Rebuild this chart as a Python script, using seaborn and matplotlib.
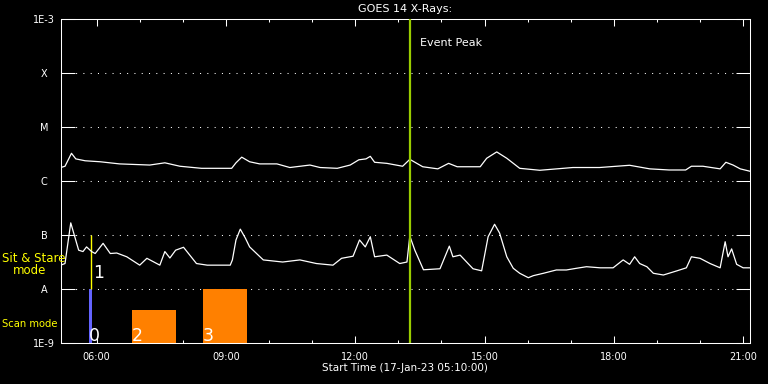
import matplotlib
matplotlib.use('Agg')
import matplotlib.pyplot as plt
import matplotlib.dates as mdates
from matplotlib.ticker import FixedLocator, NullLocator
import pandas as pd
import seaborn as sns

day = '2023-01-17 '

# GOES long channel (1-8 A)
long_times = ['05:10', '05:16', '05:25', '05:31', '05:44', '06:05', '06:32', '07:14', '07:35', '07:56',
              '08:26', '09:08', '09:14', '09:22', '09:33', '09:47', '10:11', '10:29', '10:57', '11:11',
              '11:35', '11:53', '12:05', '12:15', '12:21', '12:27', '12:44', '13:06', '13:16', '13:34',
              '13:55', '14:10', '14:22', '14:54', '15:03', '15:17', '15:31', '15:49', '16:17', '17:03',
              '17:40', '18:22', '18:50', '19:17', '19:40', '19:48', '20:04', '20:28', '20:36', '20:46',
              '20:56', '21:10']
long_flux = [1.8e-6, 1.9e-6, 3.3e-6, 2.6e-6, 2.4e-6, 2.3e-6, 2.1e-6, 2.0e-6, 2.2e-6, 1.9e-6,
             1.74e-6, 1.74e-6, 2.2e-6, 2.8e-6, 2.3e-6, 2.1e-6, 2.1e-6, 1.8e-6, 2.0e-6, 1.8e-6,
             1.74e-6, 2.0e-6, 2.5e-6, 2.6e-6, 2.9e-6, 2.25e-6, 2.15e-6, 1.9e-6, 2.55e-6, 1.86e-6,
             1.7e-6, 2.15e-6, 1.86e-6, 1.86e-6, 2.67e-6, 3.5e-6, 2.67e-6, 1.74e-6, 1.6e-6, 1.8e-6,
             1.8e-6, 1.98e-6, 1.7e-6, 1.62e-6, 1.62e-6, 1.9e-6, 1.9e-6, 1.7e-6, 2.25e-6, 2.0e-6,
             1.7e-6, 1.53e-6]

# GOES short channel (0.5-4 A)
short_times = ['05:10', '05:16', '05:24', '05:29', '05:35', '05:41', '05:46', '05:53', '05:58', '06:09',
               '06:19', '06:28', '06:42', '07:00', '07:10', '07:28', '07:35', '07:42', '07:50', '08:01',
               '08:19', '08:34', '09:06', '09:09', '09:14', '09:20', '09:27', '09:33', '09:52', '10:19',
               '10:43', '11:06', '11:29', '11:41', '11:57', '12:06', '12:14', '12:21', '12:27', '12:44',
               '13:02', '13:12', '13:16', '13:23', '13:35', '13:58', '14:11', '14:16', '14:26', '14:44',
               '14:56', '15:05', '15:14', '15:21', '15:31', '15:40', '15:49', '16:01', '16:08', '16:22',
               '16:40', '16:54', '17:08', '17:22', '17:41', '17:59', '18:13', '18:22', '18:29', '18:36',
               '18:46', '18:55', '19:09', '19:27', '19:41', '19:48', '20:00', '20:14', '20:28', '20:35',
               '20:39', '20:44', '20:51', '21:00', '21:10']
short_flux = [2.8e-8, 3.0e-8, 1.7e-7, 1.0e-7, 5.3e-8, 5.0e-8, 6.1e-8, 5.0e-8, 4.6e-8, 7.1e-8,
              4.6e-8, 4.7e-8, 4.0e-8, 2.8e-8, 3.75e-8, 2.8e-8, 5.0e-8, 3.8e-8, 5.3e-8, 6.0e-8,
              3.0e-8, 2.8e-8, 2.8e-8, 3.5e-8, 8.2e-8, 1.3e-7, 8.9e-8, 6.1e-8, 3.5e-8, 3.2e-8,
              3.5e-8, 3.0e-8, 2.8e-8, 3.75e-8, 4.1e-8, 8.2e-8, 6.1e-8, 9.4e-8, 4.0e-8, 4.3e-8,
              3.0e-8, 3.2e-8, 9.7e-8, 5.3e-8, 2.3e-8, 2.4e-8, 6.3e-8, 4.0e-8, 4.3e-8, 2.4e-8,
              2.2e-8, 9.4e-8, 1.6e-7, 1.1e-7, 4.0e-8, 2.45e-8, 1.98e-8, 1.64e-8, 1.79e-8, 1.98e-8,
              2.28e-8, 2.28e-8, 2.45e-8, 2.62e-8, 2.5e-8, 2.5e-8, 3.5e-8, 2.9e-8, 4.0e-8, 3.0e-8,
              2.62e-8, 1.98e-8, 1.84e-8, 2.18e-8, 2.5e-8, 4.0e-8, 3.75e-8, 3.0e-8, 2.5e-8, 7.6e-8,
              4.0e-8, 5.6e-8, 2.9e-8, 2.5e-8, 2.5e-8]

# observation blocks: label, start, end, top flux, colour
obs_labels = ['0', '2', '3']
obs_start = ['05:49', '06:49', '08:28']
obs_end = ['05:54', '07:51', '09:30']
obs_top = [1e-8, 4.1e-9, 1e-8]
obs_colors = ['#6464ff', '#ff8000', '#ff8000']

sitstare_time = '05:52'
sitstare_range = [1e-8, 1e-7]
event_peak = '13:16'

class_ticks = [1e-9, 1e-8, 1e-7, 1e-6, 1e-5, 1e-4, 1e-3]
class_labels = ['1E-9', 'A', 'B', 'C', 'M', 'X', '1E-3']
t_start, t_end = '05:10', '21:10'


def ts(hm):
    return pd.Timestamp(day + hm)


df = pd.concat([
    pd.DataFrame({'time': [ts(t) for t in long_times], 'flux': long_flux, 'band': 'long'}),
    pd.DataFrame({'time': [ts(t) for t in short_times], 'flux': short_flux, 'band': 'short'}),
])

sns.set_theme(style='dark', rc={'axes.facecolor': 'black', 'figure.facecolor': 'black',
                                'axes.edgecolor': 'white', 'text.color': 'white',
                                'xtick.color': 'white', 'ytick.color': 'white'})
plt.rcParams['font.family'] = ['DejaVu Sans']

fig = plt.figure(figsize=(7.68, 3.84), dpi=100, facecolor='black')
ax = fig.add_axes([60.7 / 768, 1 - 343.3 / 384, 689.6 / 768, 324 / 384])
ax.set_facecolor('black')

ax.set_yscale('log')
ax.set_ylim(1e-9, 1e-3)
ax.set_xlim(ts(t_start), ts(t_end))

# dotted class levels
for lev in class_ticks[1:-1]:
    ax.axhline(lev, color='white', lw=0.75, ls=(0, (1, 6)), zorder=1)

# observation blocks
for lab, s, e, top, c in zip(obs_labels, obs_start, obs_end, obs_top, obs_colors):
    x0 = mdates.date2num(ts(s))
    w = mdates.date2num(ts(e)) - x0
    ax.bar(x0, top - 1e-9, width=w, bottom=1e-9, align='edge', color=c, lw=0, zorder=2)
    ax.text(ts(s), 1.12e-9, lab, color='white', fontsize=12.5, ha='left', va='baseline', zorder=5)

ax.vlines(ts(sitstare_time), sitstare_range[0], sitstare_range[1], color='yellow', lw=1, zorder=3)
ax.text(ts('05:55'), 1.6e-8, '1', color='white', fontsize=12.5, ha='left', va='baseline', zorder=5)

sns.lineplot(data=df, x='time', y='flux', hue='band', palette=['white', 'white'],
             estimator=None, legend=False, linewidth=0.9, ax=ax, zorder=4)

ax.axvline(ts(event_peak), color='#99cc00', lw=1.6, zorder=5)
ax.text(ts('13:30'), 10 ** (-9 + 300 / 54), 'Event Peak', color='white', fontsize=8,
        ha='left', va='center')

# axes styling
ax.yaxis.set_major_locator(FixedLocator(class_ticks))
ax.yaxis.set_minor_locator(NullLocator())
ax.set_yticklabels(class_labels)
for lbl in ax.get_yticklabels():
    lbl.set_ha('center')
ax.tick_params(axis='y', which='major', direction='in', length=10, width=0.75,
               left=True, right=True, colors='white', pad=12, labelsize=7)

ax.xaxis.set_major_locator(mdates.HourLocator(byhour=range(0, 24, 3)))
ax.xaxis.set_minor_locator(mdates.HourLocator())
ax.xaxis.set_major_formatter(mdates.DateFormatter('%H:%M'))
ax.tick_params(axis='x', which='major', direction='in', length=5, width=0.75,
               top=True, bottom=True, colors='white', pad=6, labelsize=7)
ax.tick_params(axis='x', which='minor', direction='in', length=2.5, width=0.75,
               top=True, bottom=True, colors='white')
for sp in ax.spines.values():
    sp.set_color('white')
    sp.set_linewidth(0.75)
ax.grid(False)
ax.set_xlabel('')
ax.set_ylabel('')

ax.set_title('GOES 14 X-Rays:', color='white', fontsize=8, pad=5)
fig.text(405 / 768, 1 - 368 / 384, 'Start Time (17-Jan-23 05:10:00)', color='white',
         fontsize=7.5, ha='center', va='center')

fig.text(2 / 768, 1 - 259 / 384, 'Sit & Stare', color='yellow', fontsize=8.5, ha='left', va='center')
fig.text(13 / 768, 1 - 271 / 384, 'mode', color='yellow', fontsize=8.5, ha='left', va='center')
fig.text(2 / 768, 1 - 324 / 384, 'Scan mode', color='yellow', fontsize=7.2, ha='left', va='center')

fig.savefig('out.png', dpi=100, facecolor='black')
